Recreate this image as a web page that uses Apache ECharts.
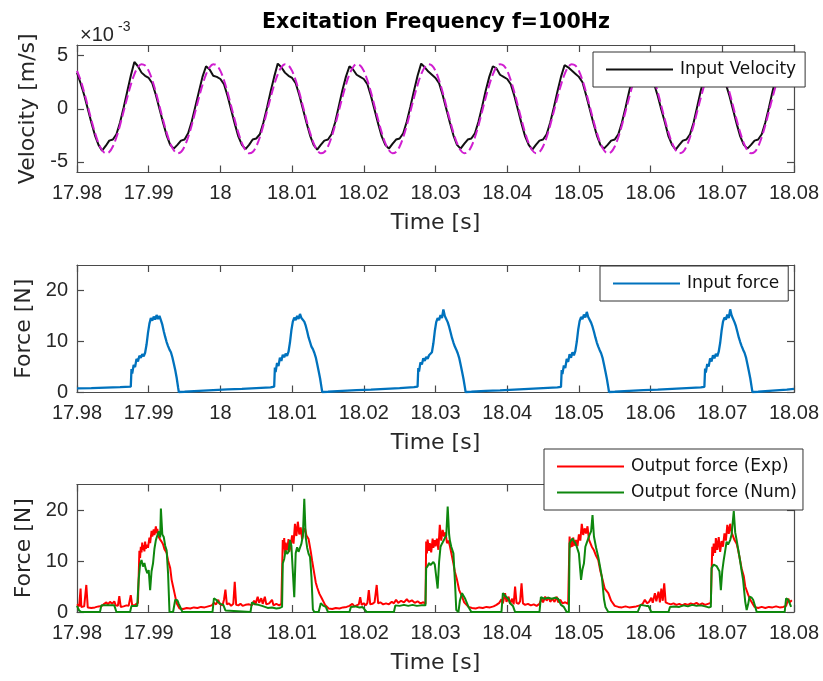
<!DOCTYPE html>
<html>
<head>
<meta charset="utf-8">
<script src="https://cdn.jsdelivr.net/npm/echarts@6/dist/echarts.min.js"></script>
<style>
html,body{margin:0;padding:0;background:#fff}
#chart{width:823px;height:681px}
</style>
</head>
<body>
<div id="chart"></div>
<script>
// ---- axis ticks ----
const timeTicks = [17.98, 17.99, 18.00, 18.01, 18.02, 18.03, 18.04, 18.05, 18.06, 18.07, 18.08];
const velocityTicks = [-5, 0, 5];
const forceTicks = [0, 10, 20];

// ---- velocity (x 1e-3 m/s), sampled every 0.5 ms from 17.98 s ----
const velocityStart = 17.98;
const velocityStep = 0.0005;
const inputVelocity = [
  3.4, 2.4, 1.3, 0.0, -1.3, -2.5, -3.4,
  -3.95, -3.5, -3.0, -2.9, -2.4, -1.3, 0.1, 1.6, 3.1, 4.4, 4.0, 3.4, 3.1, 2.9, 2.4, 1.3, 0.0, -1.3, -2.5, -3.4,
  -3.75, -3.4, -3.0, -2.9, -2.3, -1.2, 0.2, 1.6, 3.0, 4.0, 3.7, 3.1, 3.0, 2.8, 2.3, 1.2, -0.1, -1.4, -2.6, -3.4,
  -3.8, -3.4, -2.9, -2.8, -2.4, -1.3, 0.1, 1.6, 3.0, 4.25, 3.9, 3.4, 3.1, 2.9, 2.4, 1.3, 0.0, -1.3, -2.5, -3.4,
  -3.85, -3.4, -3.0, -2.9, -2.4, -1.3, 0.2, 1.7, 3.0, 4.0, 3.7, 3.2, 3.0, 2.8, 2.3, 1.2, -0.1, -1.4, -2.6, -3.4,
  -3.75, -3.3, -2.9, -2.8, -2.3, -1.2, 0.2, 1.7, 3.1, 4.25, 3.9, 3.5, 3.2, 2.9, 2.4, 1.3, 0.0, -1.3, -2.5, -3.4,
  -3.75, -3.3, -2.9, -2.8, -2.3, -1.2, 0.2, 1.7, 3.0, 4.0, 3.8, 3.2, 3.0, 2.8, 2.3, 1.2, -0.1, -1.4, -2.6, -3.4,
  -3.85, -3.4, -3.0, -2.9, -2.4, -1.3, 0.1, 1.6, 3.0, 4.1, 3.9, 3.6, 3.3, 3.0, 2.5, 1.3, 0.0, -1.3, -2.5, -3.4,
  -3.75, -3.4, -3.0, -2.9, -2.4, -1.3, 0.1, 1.6, 3.0, 4.0, 3.7, 3.2, 3.0, 2.8, 2.3, 1.2, -0.1, -1.3, -2.6, -3.4,
  -3.85, -3.4, -3.0, -2.9, -2.4, -1.3, 0.2, 1.7, 3.0, 4.0, 3.7, 3.2, 3.0, 2.8, 2.3, 1.2, -0.1, -1.4, -2.6, -3.4,
  -3.75, -3.4, -3.0, -2.9, -2.4, -1.3, 0.1, 1.6, 3.0, 4.0
];
const referenceVelocity = [
  3.56, 2.68, 1.55, 0.26, -1.04, -2.25, -3.24, -3.91, -4.19, -4.07, -3.55, -2.68, -1.55, -0.26, 1.04, 2.25, 3.24, 3.91, 4.19, 4.07,
  3.56, 2.68, 1.55, 0.26, -1.04, -2.25, -3.24, -3.91, -4.19, -4.07, -3.55, -2.68, -1.55, -0.26, 1.04, 2.25, 3.24, 3.91, 4.19, 4.07,
  3.56, 2.68, 1.55, 0.26, -1.04, -2.25, -3.24, -3.91, -4.19, -4.07, -3.55, -2.68, -1.55, -0.26, 1.04, 2.25, 3.24, 3.91, 4.19, 4.07,
  3.56, 2.68, 1.55, 0.26, -1.04, -2.25, -3.24, -3.91, -4.19, -4.07, -3.55, -2.68, -1.55, -0.26, 1.04, 2.25, 3.24, 3.91, 4.19, 4.07,
  3.56, 2.68, 1.55, 0.26, -1.04, -2.25, -3.24, -3.91, -4.19, -4.07, -3.55, -2.68, -1.55, -0.26, 1.04, 2.25, 3.24, 3.91, 4.19, 4.07,
  3.56, 2.68, 1.55, 0.26, -1.04, -2.25, -3.24, -3.91, -4.19, -4.07, -3.55, -2.68, -1.55, -0.26, 1.04, 2.25, 3.24, 3.91, 4.19, 4.07,
  3.56, 2.68, 1.55, 0.26, -1.04, -2.25, -3.24, -3.91, -4.19, -4.07, -3.55, -2.68, -1.55, -0.26, 1.04, 2.25, 3.24, 3.91, 4.19, 4.07,
  3.56, 2.68, 1.55, 0.26, -1.04, -2.25, -3.24, -3.91, -4.19, -4.07, -3.55, -2.68, -1.55, -0.26, 1.04, 2.25, 3.24, 3.91, 4.19, 4.07,
  3.56, 2.68, 1.55, 0.26, -1.04, -2.25, -3.24, -3.91, -4.19, -4.07, -3.55, -2.68, -1.55, -0.26, 1.04, 2.25, 3.24, 3.91, 4.19, 4.07,
  3.56, 2.68, 1.55, 0.26, -1.04, -2.25, -3.24, -3.91, -4.19, -4.07, -3.55, -2.68, -1.55, -0.26, 1.04, 2.25, 3.24
];

// ---- input force [s, N] ----
const inputForce = [
  [17.9800,0.80],[17.9820,0.85],[17.9840,0.95],[17.9860,1.05],[17.9875,1.15],
  [17.9876,4.6],[17.9877,3.7],[17.9879,5.4],[17.9881,5.0],[17.9883,6.6],[17.9885,6.1],[17.9887,7.2],[17.9889,6.8],[17.9891,7.5],[17.9893,7.1],[17.9895,7.8],[17.9897,9.4],[17.9899,11.7],[17.9901,13.5],[17.9903,14.6],[17.9905,14.1],[17.9907,14.9],[17.9909,14.3],[17.9911,15.2],[17.9913,14.4],[17.9915,15.0],[17.9917,14.2],[17.9919,13.3],[17.9921,12.0],[17.9923,10.9],[17.9925,9.9],[17.9927,9.1],[17.9929,8.4],[17.9931,7.9],[17.9933,6.9],[17.9935,5.7],[17.9937,4.4],[17.9939,2.9],[17.9941,1.0],[17.9942,0.1],
  [17.9950,0.15],[17.9970,0.3],[17.9990,0.45],[18.0010,0.6],[18.0030,0.7],[18.0050,0.85],[18.0070,1.0],[18.0075,1.15],
  [18.0076,4.9],[18.0077,4.0],[18.0079,5.8],[18.0081,5.2],[18.0083,6.8],[18.0085,6.2],[18.0087,7.4],[18.0089,6.9],[18.0091,7.6],[18.0093,7.2],[18.0095,8.0],[18.0097,9.8],[18.0099,12.2],[18.0101,13.9],[18.0103,14.7],[18.0105,14.2],[18.0107,15.0],[18.0109,14.4],[18.0111,15.4],[18.0113,14.6],[18.0115,14.9],[18.0117,13.9],[18.0119,13.1],[18.0121,12.0],[18.0123,10.8],[18.0125,9.9],[18.0127,9.0],[18.0129,8.5],[18.0131,7.8],[18.0133,6.9],[18.0135,5.6],[18.0137,4.2],[18.0139,2.8],[18.0141,1.0],[18.0142,0.1],
  [18.0150,0.15],[18.0170,0.3],[18.0190,0.45],[18.0210,0.55],[18.0230,0.7],[18.0250,0.85],[18.0270,1.05],[18.0275,1.15],
  [18.0276,4.8],[18.0277,4.1],[18.0279,5.9],[18.0281,5.5],[18.0283,6.7],[18.0285,6.2],[18.0287,7.0],[18.0289,6.6],[18.0291,7.3],[18.0293,7.0],[18.0295,7.9],[18.0297,9.6],[18.0299,12.0],[18.0301,13.8],[18.0303,14.6],[18.0305,14.2],[18.0307,15.2],[18.0309,14.6],[18.0311,16.3],[18.0313,15.0],[18.0315,14.9],[18.0317,13.8],[18.0319,12.9],[18.0321,11.8],[18.0323,10.7],[18.0325,9.8],[18.0327,9.0],[18.0329,8.4],[18.0331,7.7],[18.0333,6.8],[18.0335,5.5],[18.0337,4.1],[18.0339,2.7],[18.0341,1.0],[18.0342,0.1],
  [18.0350,0.15],[18.0370,0.3],[18.0390,0.4],[18.0410,0.55],[18.0430,0.7],[18.0450,0.85],[18.0470,1.0],[18.0475,1.1],
  [18.0476,4.4],[18.0477,3.6],[18.0479,5.3],[18.0481,4.8],[18.0483,6.6],[18.0485,6.0],[18.0487,7.5],[18.0489,6.8],[18.0491,7.9],[18.0493,7.3],[18.0495,8.1],[18.0497,9.9],[18.0499,12.3],[18.0501,14.0],[18.0503,14.8],[18.0505,14.4],[18.0507,15.3],[18.0509,14.7],[18.0511,15.8],[18.0513,14.8],[18.0515,14.6],[18.0517,13.7],[18.0519,12.9],[18.0521,11.9],[18.0523,10.8],[18.0525,9.8],[18.0527,9.0],[18.0529,8.3],[18.0531,7.7],[18.0533,6.8],[18.0535,5.5],[18.0537,4.1],[18.0539,2.7],[18.0541,1.0],[18.0542,0.1],
  [18.0550,0.15],[18.0570,0.3],[18.0590,0.45],[18.0610,0.55],[18.0630,0.7],[18.0650,0.85],[18.0670,1.0],[18.0675,1.1],
  [18.0676,4.7],[18.0677,3.9],[18.0679,5.6],[18.0681,5.1],[18.0683,6.7],[18.0685,6.1],[18.0687,7.3],[18.0689,6.7],[18.0691,7.6],[18.0693,7.1],[18.0695,8.0],[18.0697,9.7],[18.0699,12.1],[18.0701,13.9],[18.0703,14.7],[18.0705,14.3],[18.0707,15.3],[18.0709,14.6],[18.0711,16.3],[18.0713,15.1],[18.0715,14.8],[18.0717,13.8],[18.0719,13.0],[18.0721,11.9],[18.0723,10.8],[18.0725,9.9],[18.0727,9.1],[18.0729,8.4],[18.0731,7.8],[18.0733,6.9],[18.0735,5.6],[18.0737,4.2],[18.0739,2.8],[18.0741,1.0],[18.0742,0.1],
  [18.0750,0.15],[18.0770,0.35],[18.0790,0.55],[18.0800,0.7]
];

// ---- output force, experiment [s, N] ----
const outputForceExp = [
  [17.9800,1.5],[17.9803,1.1],[17.9805,4.6],[17.9806,1.0],[17.9810,1.1],[17.9812,1.3],[17.9813,5.3],[17.9815,0.9],[17.9820,0.8],[17.9825,0.9],[17.9830,1.1],[17.9835,1.2],[17.9838,1.6],[17.9841,1.9],[17.9843,1.5],[17.9846,2.0],[17.9849,1.6],[17.9852,2.1],[17.9854,1.3],[17.9857,1.2],[17.9859,3.1],[17.9861,1.0],[17.9865,1.1],[17.9869,1.3],[17.9872,1.2],[17.9875,3.3],[17.9877,1.3],[17.9881,1.4],[17.9885,1.8],
  [17.9887,12.0],[17.9888,10.6],[17.9889,12.8],[17.9890,11.7],[17.9891,13.6],[17.9892,12.2],[17.9893,13.1],[17.9894,11.9],[17.9895,13.8],[17.9896,12.4],[17.9898,13.2],[17.9899,12.6],[17.9901,14.6],[17.9902,13.5],[17.9904,15.9],[17.9905,14.8],[17.9907,16.2],[17.9908,15.1],[17.9910,16.8],[17.9911,15.4],[17.9912,16.3],[17.9914,14.7],[17.9916,14.2],[17.9918,13.8],[17.9920,13.3],[17.9922,12.3],[17.9925,11.6],[17.9927,10.1],[17.9930,8.6],[17.9932,6.3],[17.9934,5.0],[17.9936,3.7],[17.9939,1.7],[17.9943,0.7],
  [17.9948,0.6],[17.9953,0.8],[17.9958,0.7],[17.9963,0.9],[17.9968,0.8],[17.9973,1.0],[17.9978,0.9],[17.9983,1.1],[17.9988,1.3],[17.9991,1.8],[17.9994,1.5],[17.9997,2.4],[17.9999,1.6],[18.0003,1.3],[18.0005,2.4],[18.0007,4.4],[18.0009,1.5],[18.0012,1.7],[18.0015,1.2],[18.0018,1.6],[18.0020,5.9],[18.0022,1.4],[18.0025,1.3],[18.0028,1.6],[18.0031,1.2],[18.0035,1.4],[18.0040,1.5],[18.0044,1.3],[18.0047,2.2],[18.0049,1.6],[18.0052,3.0],[18.0054,1.8],[18.0057,2.7],[18.0059,1.6],[18.0062,3.0],[18.0064,1.5],[18.0068,1.7],[18.0072,2.4],[18.0074,1.3],[18.0078,1.6],[18.0082,1.3],[18.0085,1.6],
  [18.0087,14.1],[18.0088,12.3],[18.0089,14.5],[18.0090,11.4],[18.0091,13.6],[18.0093,12.1],[18.0095,14.3],[18.0096,11.8],[18.0098,12.9],[18.0100,15.0],[18.0102,13.4],[18.0104,17.3],[18.0106,14.9],[18.0108,17.7],[18.0110,15.2],[18.0112,16.6],[18.0114,14.3],[18.0116,15.8],[18.0118,16.4],[18.0120,15.0],[18.0123,14.3],[18.0126,11.9],[18.0128,10.0],[18.0130,8.3],[18.0133,5.8],[18.0135,4.8],[18.0138,3.6],[18.0141,2.8],[18.0146,1.4],[18.0151,0.7],
  [18.0156,0.6],[18.0161,0.8],[18.0166,0.7],[18.0171,0.9],[18.0176,1.0],[18.0180,1.2],[18.0184,1.6],[18.0187,1.1],[18.0190,1.3],[18.0193,1.5],[18.0195,2.9],[18.0197,1.4],[18.0200,1.7],[18.0203,1.3],[18.0205,1.8],[18.0207,4.3],[18.0209,1.5],[18.0212,1.6],[18.0215,1.9],[18.0218,5.3],[18.0220,1.7],[18.0223,1.9],[18.0227,1.5],[18.0231,1.7],[18.0235,1.5],[18.0239,2.0],[18.0242,1.7],[18.0245,2.4],[18.0248,1.8],[18.0252,2.2],[18.0256,1.9],[18.0260,2.5],[18.0263,2.0],[18.0267,2.3],[18.0271,1.8],[18.0275,2.1],[18.0279,1.7],[18.0283,1.9],[18.0286,1.6],
  [18.0287,13.8],[18.0288,11.5],[18.0289,14.2],[18.0291,12.0],[18.0292,13.5],[18.0294,11.7],[18.0296,14.4],[18.0297,12.6],[18.0299,14.1],[18.0300,12.9],[18.0302,14.4],[18.0304,12.2],[18.0306,17.1],[18.0308,14.0],[18.0310,16.1],[18.0312,14.8],[18.0314,15.6],[18.0316,13.5],[18.0318,14.0],[18.0320,13.0],[18.0322,11.6],[18.0325,9.5],[18.0327,7.9],[18.0330,6.3],[18.0333,4.3],[18.0337,3.0],[18.0340,1.9],[18.0346,1.0],
  [18.0351,0.8],[18.0356,0.7],[18.0361,0.9],[18.0366,0.8],[18.0371,1.0],[18.0376,0.9],[18.0381,1.1],[18.0385,1.4],[18.0389,1.8],[18.0392,2.5],[18.0394,1.7],[18.0397,3.7],[18.0399,2.0],[18.0402,3.0],[18.0404,1.6],[18.0407,2.6],[18.0409,1.5],[18.0411,5.0],[18.0413,1.8],[18.0416,1.6],[18.0418,2.1],[18.0420,5.6],[18.0422,1.7],[18.0425,1.4],[18.0429,1.6],[18.0433,1.3],[18.0437,1.5],[18.0441,1.2],[18.0445,1.6],[18.0448,2.6],[18.0450,1.9],[18.0453,3.0],[18.0455,2.2],[18.0458,2.9],[18.0460,2.0],[18.0463,2.6],[18.0466,2.0],[18.0469,3.0],[18.0471,1.9],[18.0474,2.4],[18.0477,1.7],[18.0481,1.9],[18.0485,1.6],
  [18.0487,14.8],[18.0488,12.6],[18.0489,14.2],[18.0491,12.8],[18.0492,14.6],[18.0494,13.0],[18.0496,14.1],[18.0498,12.9],[18.0500,15.2],[18.0502,14.0],[18.0504,17.3],[18.0506,15.1],[18.0508,16.4],[18.0510,15.4],[18.0512,16.8],[18.0514,14.2],[18.0516,13.5],[18.0518,12.8],[18.0521,12.1],[18.0524,11.0],[18.0527,10.2],[18.0530,8.0],[18.0532,6.9],[18.0536,4.6],[18.0541,3.7],[18.0545,2.2],[18.0550,1.2],
  [18.0555,1.0],[18.0560,0.9],[18.0565,1.1],[18.0570,0.9],[18.0575,1.0],[18.0580,1.1],[18.0585,1.3],[18.0589,1.6],[18.0592,2.4],[18.0595,1.7],[18.0598,2.0],[18.0601,2.8],[18.0603,1.8],[18.0606,3.7],[18.0608,2.1],[18.0611,4.0],[18.0613,1.9],[18.0615,4.6],[18.0617,2.2],[18.0619,5.6],[18.0621,1.9],[18.0624,1.7],[18.0628,1.5],[18.0632,1.7],[18.0636,1.4],[18.0640,1.6],[18.0644,1.3],[18.0648,1.6],[18.0652,1.4],[18.0656,1.7],[18.0660,1.5],[18.0664,1.8],[18.0668,1.4],[18.0672,1.7],[18.0676,1.4],[18.0680,1.6],[18.0684,1.8],
  [18.0686,12.8],[18.0687,11.0],[18.0688,13.4],[18.0690,11.6],[18.0691,14.5],[18.0693,12.2],[18.0695,14.7],[18.0697,11.8],[18.0699,13.9],[18.0701,12.8],[18.0703,15.4],[18.0705,14.0],[18.0707,17.1],[18.0709,15.3],[18.0711,17.3],[18.0713,15.6],[18.0715,15.5],[18.0717,14.1],[18.0720,13.4],[18.0722,12.2],[18.0725,10.0],[18.0727,8.5],[18.0730,7.0],[18.0732,5.0],[18.0736,3.4],[18.0739,2.4],[18.0745,1.0],
  [18.0750,0.8],[18.0755,1.0],[18.0760,0.8],[18.0765,1.0],[18.0770,0.9],[18.0775,1.1],[18.0780,0.9],[18.0785,1.0],[18.0789,1.2],[18.0792,2.6],[18.0794,1.9],[18.0797,2.3]
];

// ---- output force, numerical model [s, N] ----
const outputForceNum = [
  [17.9800,1.2],[17.9803,0.3],[17.9806,0.0],[17.9832,0.0],[17.9834,1.3],[17.9852,1.3],[17.9855,0.0],[17.9874,0.0],[17.9876,1.2],[17.9884,1.2],
  [17.9886,6.3],[17.9888,9.4],[17.9890,10.2],[17.9892,8.9],[17.9894,9.6],[17.9896,8.4],[17.9898,7.6],[17.9900,8.2],[17.9902,4.3],[17.9904,8.0],[17.9906,9.5],[17.9908,12.4],[17.9910,14.1],[17.9912,15.0],[17.9914,15.8],[17.9916,14.6],[17.9917,20.3],[17.9919,15.2],[17.9921,14.7],[17.9923,13.0],[17.9925,12.1],[17.9927,7.6],[17.9929,0.0],[17.9934,0.0],[17.9937,2.4],[17.9940,2.3],[17.9942,1.6],[17.9947,0.0],
  [17.9989,0.0],[17.9991,2.7],[17.9994,2.4],[17.9997,1.9],[18.0000,1.6],[18.0004,1.4],[18.0007,0.3],[18.0009,0.0],
  [18.0042,0.0],[18.0044,1.9],[18.0048,1.5],[18.0053,1.4],[18.0058,1.2],[18.0062,1.0],[18.0066,0.8],[18.0072,0.9],[18.0078,0.7],[18.0083,0.8],[18.0086,1.0],
  [18.0087,9.5],[18.0089,10.4],[18.0091,12.1],[18.0093,11.4],[18.0095,11.8],[18.0097,14.1],[18.0099,13.0],[18.0101,13.3],[18.0103,2.9],[18.0105,11.5],[18.0107,12.7],[18.0109,11.8],[18.0111,12.6],[18.0113,13.4],[18.0115,15.0],[18.0117,22.2],[18.0119,14.7],[18.0121,12.6],[18.0123,11.4],[18.0125,10.8],[18.0127,6.9],[18.0129,0.5],[18.0131,0.0],[18.0137,0.0],[18.0140,1.7],[18.0144,1.2],[18.0147,1.0],[18.0150,0.0],
  [18.0180,0.0],[18.0182,1.0],[18.0188,1.1],[18.0194,0.9],[18.0198,1.0],[18.0201,0.5],[18.0204,0.0],[18.0242,0.0],[18.0244,1.3],[18.0250,1.2],[18.0256,1.4],[18.0262,1.2],[18.0268,1.4],[18.0274,1.2],[18.0280,1.3],[18.0286,1.3],
  [18.0287,8.6],[18.0289,9.0],[18.0291,9.6],[18.0293,9.2],[18.0295,9.5],[18.0297,9.8],[18.0299,9.3],[18.0301,9.6],[18.0303,4.6],[18.0305,9.8],[18.0307,12.8],[18.0309,13.4],[18.0311,13.9],[18.0313,14.5],[18.0315,15.0],[18.0317,20.7],[18.0319,15.2],[18.0320,14.1],[18.0322,12.8],[18.0325,11.5],[18.0327,6.3],[18.0329,0.4],[18.0332,0.0],[18.0334,2.2],[18.0337,3.7],[18.0341,2.7],[18.0346,1.0],[18.0350,0.0],
  [18.0392,0.0],[18.0394,3.7],[18.0397,3.2],[18.0399,3.4],[18.0402,2.5],[18.0404,1.7],[18.0408,1.2],[18.0411,0.0],[18.0445,0.0],[18.0447,2.9],[18.0452,2.6],[18.0457,2.8],[18.0462,2.6],[18.0467,2.8],[18.0471,2.6],[18.0475,1.4],[18.0479,1.0],[18.0483,0.0],[18.0486,0.0],
  [18.0487,13.5],[18.0489,14.0],[18.0491,14.4],[18.0493,13.9],[18.0495,13.5],[18.0497,12.8],[18.0500,11.5],[18.0503,6.3],[18.0505,8.4],[18.0507,9.5],[18.0509,12.8],[18.0511,13.6],[18.0513,14.4],[18.0515,15.2],[18.0517,15.8],[18.0519,19.0],[18.0521,14.8],[18.0524,12.6],[18.0527,10.8],[18.0530,8.5],[18.0532,6.9],[18.0535,2.5],[18.0537,1.0],[18.0541,0.0],
  [18.0582,0.0],[18.0586,1.4],[18.0590,1.3],[18.0594,1.2],[18.0597,1.2],[18.0601,0.0],[18.0625,0.0],[18.0627,1.0],[18.0633,1.1],[18.0640,1.0],[18.0646,1.3],[18.0652,1.1],[18.0658,1.4],[18.0664,1.2],[18.0670,1.3],[18.0676,1.1],[18.0681,0.9],[18.0684,1.0],
  [18.0685,8.6],[18.0688,9.3],[18.0690,9.6],[18.0692,9.0],[18.0694,9.2],[18.0696,8.0],[18.0698,4.3],[18.0700,8.1],[18.0702,10.2],[18.0704,12.0],[18.0706,13.8],[18.0708,13.2],[18.0711,14.1],[18.0713,15.2],[18.0716,19.8],[18.0718,15.6],[18.0720,14.1],[18.0722,12.4],[18.0724,10.8],[18.0727,8.0],[18.0729,6.3],[18.0732,2.0],[18.0734,0.4],[18.0736,1.5],[18.0738,3.0],[18.0741,2.8],[18.0743,2.4],[18.0746,1.0],[18.0748,0.0],
  [18.0787,0.0],[18.0789,2.7],[18.0792,2.4],[18.0794,1.7],[18.0796,1.0]
];

// ---- styling ----
const tickFont = "'Liberation Sans', Arial, Helvetica, sans-serif";
const textFont = "'DejaVu Sans', 'Liberation Sans', sans-serif";
const ink = '#262626';
const boxColor = '#4a4a4a';

const velocitySeries = (values) =>
  values.map((v, i) => [+(velocityStart + i * velocityStep).toFixed(4), v]);

const timeLabel = (v) => String(parseFloat(v.toFixed(2)));

function xPair(gridIndex) {
  const common = {
    type: 'value', gridIndex, min: 17.98, max: 18.08, interval: 0.01,
    axisLine: { show: true, onZero: false, lineStyle: { color: boxColor, width: 1.2 } },
    axisTick: { show: true, inside: true, length: 7, customValues: timeTicks, lineStyle: { color: boxColor, width: 1.2 } },
    splitLine: { show: false }
  };
  return [
    Object.assign({}, common, {
      position: 'bottom',
      name: 'Time [s]', nameLocation: 'middle', nameGap: 40,
      nameTextStyle: { fontFamily: textFont, fontSize: 22, color: ink },
      axisLabel: { show: true, customValues: timeTicks, formatter: timeLabel, margin: 11,
        fontFamily: tickFont, fontSize: 20, color: ink }
    }),
    Object.assign({}, common, { position: 'top', axisLabel: { show: false } })
  ];
}

function yPair(gridIndex, min, max, ticks, name, gap) {
  const common = {
    type: 'value', gridIndex, min, max,
    axisLine: { show: true, onZero: false, lineStyle: { color: boxColor, width: 1.2 } },
    axisTick: { show: true, inside: true, length: 7, customValues: ticks, lineStyle: { color: boxColor, width: 1.2 } },
    splitLine: { show: false }
  };
  return [
    Object.assign({}, common, {
      position: 'left',
      name, nameLocation: 'middle', nameGap: gap,
      nameTextStyle: { fontFamily: textFont, fontSize: 22, color: ink },
      axisLabel: { show: true, customValues: ticks, margin: 9, fontFamily: tickFont, fontSize: 20, color: ink }
    }),
    Object.assign({}, common, { position: 'right', axisLabel: { show: false } })
  ];
}

function legendBox(name, left, top, padding, extra) {
  return Object.assign({
    data: name, left, top, orient: 'vertical', padding,
    itemWidth: 67, itemHeight: 2, icon: 'rect', itemGap: 9,
    backgroundColor: '#ffffff', borderColor: '#333333', borderWidth: 1, borderRadius: 0,
    selectedMode: false,
    textStyle: { fontFamily: textFont, fontSize: 17, color: '#111111', padding: [0, 0, 0, 2] }
  }, extra || {});
}

const chart = echarts.init(document.getElementById('chart'), null, { renderer: 'canvas' });

chart.setOption({
  animation: false,
  backgroundColor: '#ffffff',
  grid: [
    { left: 77, top: 45, width: 717, height: 127.5 },
    { left: 77, top: 265, width: 717, height: 127.5 },
    { left: 77, top: 484.5, width: 717, height: 127.5 }
  ],
  xAxis: [].concat(xPair(0), xPair(1), xPair(2)),
  yAxis: [].concat(
    yPair(0, -6, 6, velocityTicks, 'Velocity [m/s]', 35),
    yPair(1, 0, 25, forceTicks, 'Force [N]', 41),
    yPair(2, 0, 25, forceTicks, 'Force [N]', 41)
  ),
  legend: [
    legendBox(['Input Velocity'], 593, 52, [9, 9, 9, 13]),
    legendBox(['Input force'], 600, 266, [9, 9, 9, 13]),
    legendBox(['Output force (Exp)', 'Output force (Num)'], 544, 449, [9, 6, 9, 13], { itemGap: 9 })
  ],
  graphic: [
    { type: 'text', x: 436, y: 23, z: 10,
      style: { text: 'Excitation Frequency f=100Hz', font: "bold 20.5px 'DejaVu Sans', sans-serif",
        fill: '#000000', textAlign: 'center', textVerticalAlign: 'middle' } },
    { type: 'text', x: 80, y: 35, z: 10,
      style: { text: '\u00d710', font: "20px 'Liberation Sans', Arial, sans-serif", fill: ink,
        textAlign: 'left', textVerticalAlign: 'middle' } },
    { type: 'text', x: 118, y: 27, z: 10,
      style: { text: '-3', font: "14px 'Liberation Sans', Arial, sans-serif", fill: ink,
        textAlign: 'left', textVerticalAlign: 'middle' } }
  ],
  series: [
    { name: 'Input Velocity', type: 'line', xAxisIndex: 0, yAxisIndex: 0,
      data: velocitySeries(inputVelocity), symbol: 'none', showSymbol: false,
      color: '#111111', lineStyle: { color: '#111111', width: 2 }, z: 2 },
    { name: 'Reference', type: 'line', xAxisIndex: 0, yAxisIndex: 0,
      data: velocitySeries(referenceVelocity), symbol: 'none', showSymbol: false, smooth: 0.35,
      color: '#d01ed0', lineStyle: { color: '#d01ed0', width: 2, type: [9, 4] }, z: 3 },
    { name: 'Input force', type: 'line', xAxisIndex: 2, yAxisIndex: 2,
      data: inputForce, symbol: 'none', showSymbol: false,
      color: '#0072bd', lineStyle: { color: '#0072bd', width: 2.3 } },
    { name: 'Output force (Exp)', type: 'line', xAxisIndex: 4, yAxisIndex: 4,
      data: outputForceExp, symbol: 'none', showSymbol: false,
      color: '#ff0000', lineStyle: { color: '#ff0000', width: 2 } },
    { name: 'Output force (Num)', type: 'line', xAxisIndex: 4, yAxisIndex: 4,
      data: outputForceNum, symbol: 'none', showSymbol: false,
      color: '#0e870e', lineStyle: { color: '#0e870e', width: 2 } }
  ]
});
</script>
</body>
</html>
